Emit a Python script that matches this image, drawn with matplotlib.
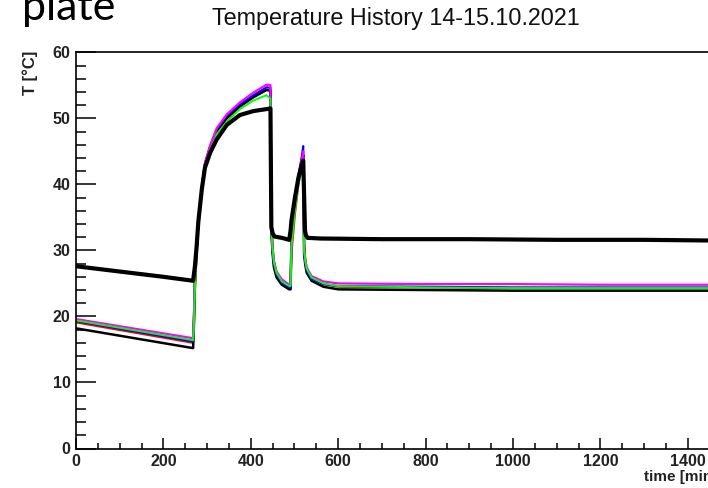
import matplotlib
matplotlib.use("Agg")
import matplotlib.pyplot as plt
from matplotlib.ticker import MultipleLocator

# time axis (minutes) shared by the lower group of sensors
t_low = [0, 268, 270, 272, 276, 280, 288, 295, 307, 322, 345, 375, 406, 436, 445,
         447, 450, 453, 459, 471, 488, 491, 493, 501, 509, 516, 520, 522, 525, 528,
         539, 566, 600, 800, 1000, 1200, 1450]

T_red = [19.1, 16.0, 18.0, 23.5, 29.0, 33.5, 38.8, 42.5, 45.3, 48.0, 50.2, 52.0, 53.3, 54.3, 54.2,
         35.0, 30.5, 28.3, 26.6, 25.2, 24.4, 24.4, 29.5, 35.5, 40.0, 42.8, 44.3, 31.0, 28.5, 27.3,
         25.9, 24.9, 24.5, 24.4, 24.3, 24.3, 24.3]
T_black_low = [18.2, 15.2, 19.5, 25.0, 30.2, 34.4, 39.5, 43.0, 45.6, 48.0, 50.0, 51.8, 53.2, 54.3, 54.2,
               32.8, 29.4, 27.4, 25.9, 24.8, 24.1, 24.1, 31.5, 37.0, 41.0, 43.3, 44.5, 29.3, 27.7, 26.6,
               25.4, 24.5, 24.1, 24.0, 23.9, 23.9, 23.9]
T_blue = [19.3, 16.2, 20.0, 25.3, 30.5, 34.5, 39.6, 43.1, 45.8, 48.3, 50.4, 52.1, 53.5, 54.7, 54.6,
          33.0, 29.8, 27.8, 26.3, 25.1, 24.4, 24.4, 31.8, 37.4, 41.4, 44.0, 45.8, 29.6, 28.0, 26.9,
          25.7, 24.9, 24.6, 24.5, 24.4, 24.4, 24.4]
T_magenta = [19.6, 16.7, 20.5, 25.5, 30.6, 34.6, 39.7, 43.2, 45.9, 48.5, 50.6, 52.4, 53.9, 55.1, 55.0,
             33.5, 30.3, 28.4, 26.8, 25.6, 24.8, 24.8, 31.6, 37.1, 41.0, 43.5, 45.0, 30.0, 28.4, 27.4,
             26.1, 25.3, 25.0, 24.9, 24.9, 24.8, 24.8]
T_green = [19.4, 16.4, 19.0, 24.5, 29.5, 33.8, 39.0, 42.6, 45.2, 47.6, 49.5, 51.4, 52.7, 53.5, 53.0,
           33.2, 30.1, 28.2, 26.6, 25.3, 24.6, 24.6, 30.5, 36.0, 40.0, 42.0, 42.8, 30.0, 28.3, 27.2,
           25.9, 25.0, 24.6, 24.4, 24.3, 24.3, 24.3]

# upper sensor (thick black trace)
t_up = [0, 100, 200, 268, 270, 272, 276, 280, 288, 295, 307, 322, 345, 375, 406, 436, 445,
        447, 450, 454, 471, 488, 491, 493, 501, 509, 516, 520, 524, 526, 530, 560, 700,
        900, 1100, 1300, 1450]
T_up = [27.6, 26.8, 26.0, 25.4, 26.5, 27.5, 30.6, 34.4, 39.3, 42.5, 44.8, 46.8, 49.0, 50.5, 51.1, 51.4, 51.5,
        33.5, 32.6, 32.1, 31.9, 31.6, 33.0, 34.5, 38.0, 41.0, 42.8, 43.6, 33.0, 32.3, 31.9, 31.8, 31.7,
        31.7, 31.6, 31.6, 31.5]

W, H = 708, 488
fig = plt.figure(figsize=(W / 100, H / 100), dpi=100)
# axes runs past the right edge of the picture (cropped screenshot)
ax = fig.add_axes([76 / W, 39.5 / H, 655.5 / W, 396.2 / H])

ax.plot(t_low, T_red, color="#ff0000", lw=1.5)
ax.plot(t_low, T_black_low, color="black", lw=1.8)
ax.plot(t_low, T_blue, color="#0000ff", lw=1.5)
ax.plot(t_low, T_magenta, color="#ff00ff", lw=1.6)
ax.plot(t_low, T_green, color="#00ff00", lw=1.4)
ax.plot(t_up, T_up, color="black", lw=3.0)

ax.set_xlim(0, 1500)
ax.set_ylim(0, 60)

ax.spines["right"].set_visible(False)
for s in ["left", "bottom", "top"]:
    ax.spines[s].set_linewidth(1.2)

ax.xaxis.set_major_locator(MultipleLocator(200))
ax.xaxis.set_minor_locator(MultipleLocator(50))
ax.yaxis.set_major_locator(MultipleLocator(10))
ax.yaxis.set_minor_locator(MultipleLocator(2))
ax.tick_params(axis="x", which="major", direction="in", length=8, width=1.1, pad=4)
ax.tick_params(axis="x", which="minor", direction="in", length=4.3, width=1.1)
ax.tick_params(axis="y", which="major", direction="in", length=14.4, width=1.1, pad=4)
ax.tick_params(axis="y", which="minor", direction="in", length=7.2, width=1.1)
ax.tick_params(top=False, right=False)

for lab in ax.get_xticklabels() + ax.get_yticklabels():
    lab.set_fontfamily("Liberation Sans")
    lab.set_fontweight("bold")
    lab.set_fontsize(11.5)
    lab.set_color("#222222")

fig.text(30 / W, 1 - 73 / H, "T [°C]", rotation=90, ha="center", va="center",
         family="Liberation Sans", fontweight="bold", fontsize=12, color="#222222")
fig.text(644 / W, 1 - 477 / H, "time [min]", ha="left", va="center",
         family="Liberation Sans", fontweight="bold", fontsize=11, color="#222222")

fig.text(396 / W, 1 - 19 / H, "Temperature History 14-15.10.2021", ha="center", va="center",
         family="Liberation Sans", fontsize=16.8, color="#111111")
fig.text(22 / W, 1 - 20 / H, "plate", ha="left", va="baseline",
         family="Lato", fontsize=31, color="black")

fig.savefig("out.png", dpi=100)
